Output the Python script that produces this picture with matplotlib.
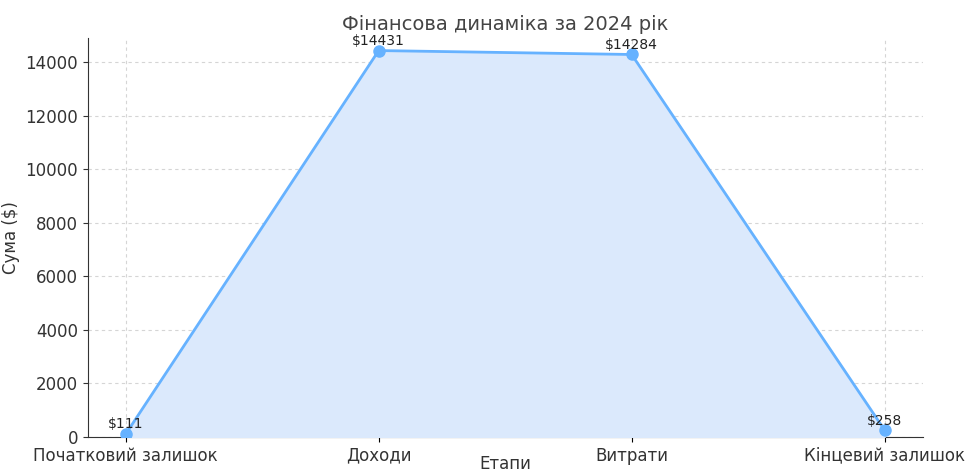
import matplotlib.pyplot as plt

# Data
stages = ["Початковий залишок", "Доходи", "Витрати", "Кінцевий залишок"]
amounts = [111, 14431, 14284, 258]

fig, ax = plt.subplots(figsize=(9.65, 4.75), dpi=100)

x = list(range(len(stages)))
ax.fill_between(x, amounts, color="#dbe9fc", zorder=3)
ax.plot(x, amounts, marker="o", color="#66b2ff", lw=2, markersize=8, zorder=4)

for xi, val in zip(x, amounts):
    ax.annotate(f"${val}", (xi, val), textcoords="offset points", xytext=(0, 4),
                ha="center", fontsize=10, color="#222222", zorder=5)

ax.set_title("Фінансова динаміка за 2024 рік", fontsize=14, color="#444444")
ax.set_xlabel("Етапи", fontsize=12, color="#333333", labelpad=-7)
ax.set_ylabel("Сума ($)", fontsize=12, color="#333333")
ax.set_xticks(x)
ax.set_xticklabels(stages, fontsize=12, color="#333333")
ax.tick_params(axis="y", labelsize=12, colors="#333333")
ax.set_ylim(0, 14900)

ax.grid(True, linestyle=(0, (3, 3)), color="#d5d5d5", lw=0.8)
ax.set_axisbelow(True)
for side in ["top", "right"]:
    ax.spines[side].set_visible(False)
for side in ["left", "bottom"]:
    ax.spines[side].set_color("#333333")

plt.subplots_adjust(left=0.091, right=0.956, top=0.92, bottom=0.08)
plt.savefig("out.png")
